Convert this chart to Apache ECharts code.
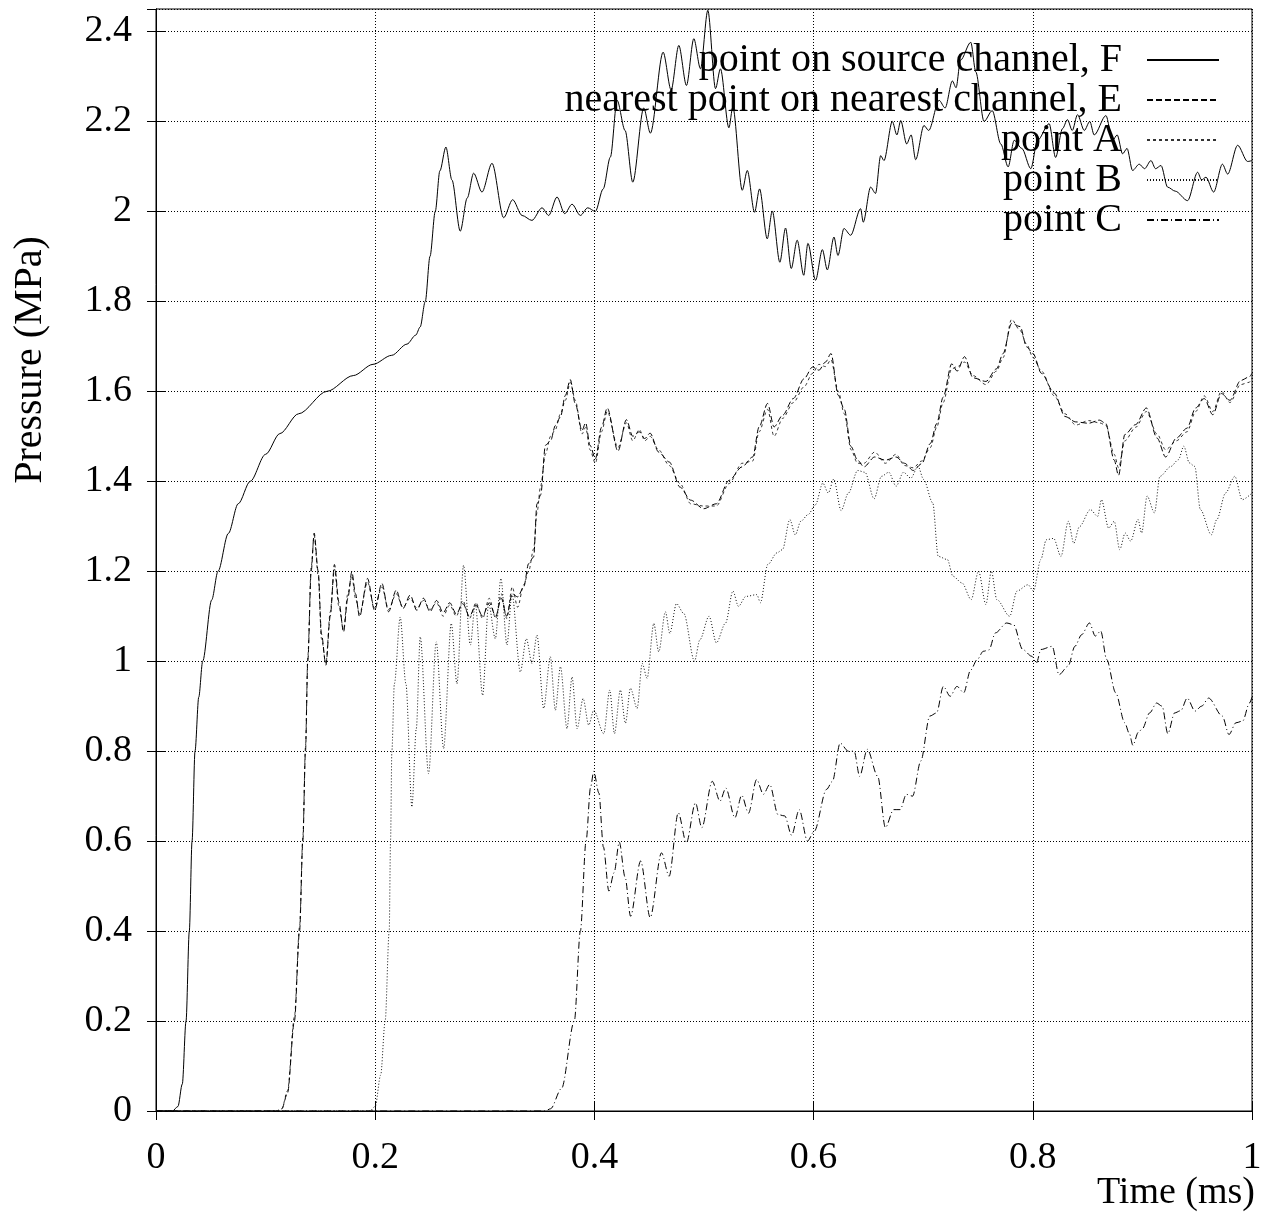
<!DOCTYPE html>
<html><head><meta charset="utf-8">
<script src="https://cdn.jsdelivr.net/npm/echarts@6/dist/echarts.min.js"></script>
<style>html,body{margin:0;padding:0;background:#fff}#c{width:1287px;height:1217px}</style>
</head><body><div id="c"></div>
<script>
const xTicks = [0, 0.2, 0.4, 0.6, 0.8, 1];
const yTicks = [0, 0.2, 0.4, 0.6, 0.8, 1, 1.2, 1.4, 1.6, 1.8, 2, 2.2, 2.4];
const seriesNames = ['point on source channel, F', 'nearest point on nearest channel, E', 'point A', 'point B', 'point C'];

const pointF = [[0,0],[0.015,0],[0.02,0.01],[0.024,0.06],[0.0274,0.2],[0.0304,0.4],[0.0329,0.6],[0.0356,0.8],[0.039,0.92],[0.0426,1.0],[0.0508,1.136],[0.0566,1.2],[0.066,1.284],[0.075,1.35],[0.086,1.4],[0.1,1.46],[0.113,1.506],[0.13,1.55],[0.156,1.6],[0.18,1.635],[0.198,1.66],[0.215,1.68],[0.229,1.705],[0.237,1.725],[0.241,1.743],[0.2457,1.8],[0.25,1.9],[0.2548,2.0],[0.259,2.09],[0.2645,2.143],[0.27,2.07],[0.2776,1.956],[0.284,2.03],[0.2898,2.085],[0.2974,2.043],[0.3066,2.107],[0.3172,1.986],[0.3254,2.026],[0.334,1.991],[0.343,1.98],[0.3522,2.008],[0.3583,1.991],[0.3659,2.032],[0.3729,1.995],[0.3796,2.016],[0.3872,1.991],[0.3939,2.008],[0.4009,2.0],[0.408,2.05],[0.4146,2.121],[0.4207,2.247],[0.428,2.18],[0.435,2.065],[0.445,2.23],[0.4511,2.174],[0.4627,2.354],[0.47,2.27],[0.477,2.369],[0.484,2.28],[0.4907,2.384],[0.4968,2.317],[0.5035,2.447],[0.5105,2.273],[0.515,2.317],[0.5227,2.186],[0.5263,2.232],[0.5349,2.047],[0.5395,2.091],[0.5461,1.998],[0.5507,2.05],[0.5577,1.939],[0.5623,2.001],[0.5692,1.887],[0.5744,1.963],[0.5796,1.873],[0.585,1.936],[0.591,1.858],[0.5948,1.929],[0.6018,1.847],[0.608,1.915],[0.6125,1.87],[0.6186,1.943],[0.6222,1.902],[0.6277,1.962],[0.6338,1.947],[0.6429,2.006],[0.6453,1.976],[0.652,2.054],[0.6565,2.04],[0.6612,2.124],[0.6642,2.113],[0.6718,2.2],[0.676,2.17],[0.6795,2.202],[0.6849,2.15],[0.689,2.17],[0.6931,2.115],[0.7007,2.191],[0.705,2.18],[0.7145,2.247],[0.72,2.23],[0.7266,2.29],[0.73,2.275],[0.734,2.336],[0.7434,2.376],[0.748,2.31],[0.7555,2.2],[0.763,2.224],[0.7708,2.15],[0.7775,2.099],[0.783,2.158],[0.79,2.14],[0.7982,2.095],[0.8043,2.158],[0.8149,2.195],[0.8208,2.12],[0.8271,2.184],[0.8316,2.204],[0.836,2.18],[0.8408,2.215],[0.847,2.18],[0.852,2.2],[0.856,2.17],[0.8667,2.213],[0.8728,2.158],[0.877,2.17],[0.8819,2.128],[0.886,2.14],[0.891,2.091],[0.8971,2.105],[0.902,2.095],[0.9078,2.113],[0.912,2.095],[0.917,2.102],[0.923,2.054],[0.93,2.045],[0.9412,2.024],[0.9504,2.087],[0.954,2.07],[0.958,2.076],[0.965,2.043],[0.973,2.105],[0.9778,2.083],[0.9869,2.147],[0.996,2.111],[1.0,2.113]];

const pointE = [[0,0],[0.11,0],[0.1148,0.005],[0.12,0.04],[0.1263,0.2],[0.131,0.4],[0.134,0.6],[0.1364,0.8],[0.1385,1.0],[0.1416,1.2],[0.1443,1.285],[0.148,1.2],[0.151,1.06],[0.155,0.991],[0.159,1.1],[0.1628,1.215],[0.167,1.13],[0.1711,1.065],[0.175,1.14],[0.1787,1.199],[0.182,1.15],[0.1857,1.099],[0.193,1.184],[0.1994,1.113],[0.2061,1.173],[0.2122,1.11],[0.2192,1.158],[0.2253,1.117],[0.2319,1.147],[0.238,1.113],[0.244,1.14],[0.25,1.11],[0.256,1.135],[0.262,1.108],[0.268,1.13],[0.274,1.105],[0.28,1.128],[0.286,1.1],[0.292,1.125],[0.298,1.1],[0.304,1.13],[0.31,1.1],[0.315,1.14],[0.32,1.1],[0.325,1.15],[0.33,1.143],[0.3355,1.165],[0.34,1.217],[0.3446,1.232],[0.3476,1.35],[0.351,1.37],[0.3553,1.48],[0.36,1.49],[0.3644,1.524],[0.369,1.543],[0.3735,1.591],[0.378,1.626],[0.3826,1.572],[0.3887,1.513],[0.392,1.53],[0.396,1.48],[0.4009,1.45],[0.4065,1.52],[0.4117,1.563],[0.4215,1.467],[0.4292,1.537],[0.435,1.5],[0.441,1.51],[0.446,1.495],[0.4508,1.507],[0.4586,1.465],[0.4683,1.443],[0.4781,1.387],[0.4879,1.358],[0.4996,1.339],[0.5112,1.35],[0.5229,1.402],[0.5347,1.432],[0.5444,1.454],[0.5503,1.521],[0.558,1.573],[0.5639,1.521],[0.5718,1.547],[0.5815,1.584],[0.5913,1.628],[0.599,1.654],[0.6049,1.647],[0.6108,1.665],[0.6159,1.684],[0.6225,1.591],[0.628,1.56],[0.6342,1.477],[0.6401,1.447],[0.6459,1.432],[0.6557,1.454],[0.6655,1.447],[0.6752,1.454],[0.683,1.44],[0.6909,1.424],[0.6986,1.439],[0.7065,1.484],[0.7123,1.528],[0.7182,1.587],[0.726,1.661],[0.731,1.645],[0.7377,1.677],[0.7455,1.63],[0.7572,1.622],[0.7669,1.65],[0.7729,1.684],[0.7806,1.751],[0.7885,1.744],[0.7943,1.699],[0.8002,1.684],[0.8079,1.64],[0.8196,1.596],[0.8294,1.544],[0.8392,1.532],[0.8509,1.529],[0.8607,1.536],[0.8665,1.529],[0.8743,1.447],[0.8782,1.413],[0.884,1.504],[0.8938,1.526],[0.9036,1.563],[0.9134,1.496],[0.9212,1.454],[0.931,1.496],[0.9407,1.518],[0.9486,1.563],[0.9564,1.584],[0.9642,1.548],[0.9721,1.595],[0.9799,1.58],[0.9896,1.624],[0.9974,1.632],[1.0,1.64]];

const pointA = [[0,0],[0.11,0],[0.1148,0.005],[0.12,0.045],[0.1263,0.21],[0.131,0.41],[0.134,0.61],[0.1364,0.81],[0.1385,1.01],[0.1416,1.21],[0.1443,1.28],[0.148,1.19],[0.151,1.05],[0.155,0.995],[0.159,1.11],[0.1628,1.205],[0.167,1.12],[0.1711,1.07],[0.175,1.15],[0.1787,1.19],[0.182,1.14],[0.1857,1.105],[0.193,1.176],[0.1994,1.118],[0.2061,1.165],[0.2122,1.115],[0.2192,1.15],[0.2253,1.12],[0.2319,1.14],[0.238,1.118],[0.244,1.135],[0.25,1.115],[0.256,1.13],[0.262,1.1],[0.268,1.125],[0.274,1.1],[0.28,1.135],[0.286,1.095],[0.292,1.13],[0.298,1.095],[0.304,1.14],[0.31,1.095],[0.315,1.15],[0.32,1.095],[0.325,1.165],[0.33,1.12],[0.3355,1.17],[0.34,1.2],[0.3446,1.25],[0.3476,1.33],[0.351,1.39],[0.3553,1.46],[0.36,1.5],[0.3644,1.515],[0.369,1.55],[0.3735,1.58],[0.378,1.62],[0.3826,1.58],[0.3887,1.505],[0.392,1.52],[0.396,1.47],[0.4009,1.44],[0.4065,1.51],[0.4117,1.555],[0.4215,1.475],[0.4292,1.53],[0.435,1.49],[0.441,1.515],[0.446,1.49],[0.4508,1.5],[0.4586,1.47],[0.4683,1.435],[0.4781,1.395],[0.4879,1.35],[0.4996,1.345],[0.5112,1.345],[0.5229,1.395],[0.5347,1.44],[0.5444,1.445],[0.5503,1.51],[0.558,1.56],[0.5639,1.5],[0.5718,1.54],[0.5815,1.575],[0.5913,1.61],[0.599,1.64],[0.6049,1.66],[0.6108,1.655],[0.6159,1.67],[0.6225,1.6],[0.628,1.55],[0.6342,1.47],[0.6401,1.44],[0.6459,1.44],[0.6557,1.465],[0.6655,1.44],[0.6752,1.46],[0.683,1.435],[0.6909,1.43],[0.6986,1.445],[0.7065,1.475],[0.7123,1.52],[0.7182,1.575],[0.726,1.65],[0.731,1.655],[0.7377,1.665],[0.7455,1.635],[0.7572,1.615],[0.7669,1.645],[0.7729,1.675],[0.7806,1.76],[0.7885,1.735],[0.7943,1.705],[0.8002,1.675],[0.8079,1.645],[0.8196,1.59],[0.8294,1.55],[0.8392,1.525],[0.8509,1.535],[0.8607,1.53],[0.8665,1.525],[0.8743,1.46],[0.8782,1.43],[0.884,1.49],[0.8938,1.52],[0.9036,1.555],[0.9134,1.505],[0.9212,1.47],[0.931,1.49],[0.9407,1.51],[0.9486,1.555],[0.9564,1.59],[0.9642,1.555],[0.9721,1.6],[0.9799,1.575],[0.9896,1.615],[0.9974,1.62],[1.0,1.63]];

const pointB = [[0,0],[0.195,0],[0.2,0.01],[0.205,0.08],[0.2091,0.2],[0.2128,0.4],[0.214,0.6],[0.2152,0.8],[0.2175,0.95],[0.2228,1.098],[0.228,0.95],[0.2335,0.676],[0.2375,0.85],[0.2411,1.054],[0.2487,0.75],[0.2557,1.043],[0.2624,0.806],[0.2694,1.084],[0.2746,0.95],[0.2806,1.213],[0.2868,1.036],[0.2913,1.128],[0.298,0.924],[0.3035,1.128],[0.3096,1.05],[0.3147,1.184],[0.3202,1.036],[0.3248,1.15],[0.3324,0.976],[0.3379,1.05],[0.3431,0.995],[0.3476,1.058],[0.3537,0.895],[0.3598,1.01],[0.3644,0.891],[0.369,0.988],[0.375,0.85],[0.3796,0.965],[0.3842,0.85],[0.3897,0.917],[0.3948,0.858],[0.3994,0.891],[0.4085,0.839],[0.414,0.936],[0.4183,0.839],[0.4237,0.936],[0.4283,0.862],[0.4329,0.94],[0.439,0.895],[0.4436,0.995],[0.4481,0.962],[0.4542,1.084],[0.4587,1.021],[0.4648,1.11],[0.4688,1.062],[0.4749,1.128],[0.4816,1.106],[0.4913,1.0],[0.4963,1.048],[0.5046,1.1],[0.5113,1.041],[0.5197,1.085],[0.5264,1.156],[0.5314,1.122],[0.5382,1.144],[0.5482,1.148],[0.5515,1.13],[0.5582,1.215],[0.5666,1.241],[0.5716,1.248],[0.5783,1.315],[0.5833,1.281],[0.5883,1.311],[0.595,1.326],[0.6017,1.348],[0.6084,1.396],[0.6134,1.374],[0.6184,1.405],[0.6251,1.335],[0.6318,1.374],[0.6402,1.424],[0.6469,1.42],[0.6552,1.361],[0.6619,1.411],[0.6686,1.42],[0.6753,1.389],[0.682,1.42],[0.6887,1.407],[0.6953,1.433],[0.7004,1.404],[0.7087,1.352],[0.7137,1.233],[0.7221,1.226],[0.7271,1.189],[0.7354,1.174],[0.7438,1.137],[0.7505,1.2],[0.7572,1.126],[0.7622,1.2],[0.7672,1.137],[0.7789,1.1],[0.7856,1.156],[0.7956,1.17],[0.8006,1.156],[0.8073,1.226],[0.8123,1.27],[0.819,1.273],[0.8257,1.233],[0.8324,1.311],[0.8374,1.262],[0.8425,1.299],[0.8525,1.337],[0.8592,1.322],[0.8626,1.359],[0.8692,1.296],[0.8743,1.311],[0.8793,1.248],[0.8843,1.285],[0.8893,1.267],[0.896,1.315],[0.8993,1.285],[0.9043,1.367],[0.911,1.33],[0.916,1.411],[0.926,1.433],[0.9328,1.448],[0.9378,1.478],[0.9428,1.441],[0.9478,1.433],[0.9529,1.337],[0.9629,1.281],[0.9679,1.315],[0.9759,1.374],[0.9843,1.411],[0.991,1.359],[1.0,1.374]];

const pointC = [[0,0],[0.355,0],[0.36,0.005],[0.37,0.05],[0.3817,0.2],[0.3872,0.4],[0.3924,0.6],[0.3965,0.72],[0.3994,0.755],[0.4041,0.707],[0.4082,0.587],[0.4132,0.489],[0.418,0.53],[0.4227,0.598],[0.428,0.52],[0.433,0.433],[0.4422,0.556],[0.4509,0.43],[0.4612,0.574],[0.4682,0.522],[0.4765,0.663],[0.4839,0.596],[0.4922,0.685],[0.498,0.63],[0.5075,0.733],[0.5146,0.689],[0.5199,0.718],[0.5282,0.652],[0.5344,0.702],[0.5406,0.662],[0.548,0.737],[0.5542,0.704],[0.56,0.726],[0.5675,0.659],[0.5737,0.656],[0.5799,0.613],[0.5869,0.67],[0.5944,0.6],[0.6006,0.622],[0.6118,0.715],[0.6172,0.733],[0.6242,0.818],[0.6316,0.8],[0.637,0.8],[0.642,0.744],[0.649,0.804],[0.6585,0.744],[0.6655,0.63],[0.673,0.67],[0.679,0.67],[0.6846,0.704],[0.6903,0.7],[0.6978,0.778],[0.706,0.878],[0.7122,0.885],[0.7184,0.944],[0.7246,0.922],[0.7308,0.944],[0.737,0.93],[0.7432,0.98],[0.7494,1.004],[0.7548,1.022],[0.76,1.025],[0.7659,1.063],[0.7762,1.085],[0.7825,1.081],[0.7908,1.026],[0.799,1.011],[0.8033,0.996],[0.8074,1.026],[0.8177,1.033],[0.8239,0.97],[0.8322,0.989],[0.8384,1.033],[0.8446,1.059],[0.8517,1.085],[0.857,1.056],[0.862,1.067],[0.8674,1.004],[0.8756,0.93],[0.8839,0.863],[0.8881,0.839],[0.8913,0.813],[0.8963,0.842],[0.9,0.85],[0.9066,0.885],[0.9129,0.907],[0.918,0.9],[0.9232,0.839],[0.9294,0.885],[0.935,0.89],[0.9409,0.918],[0.948,0.889],[0.954,0.9],[0.9604,0.918],[0.9729,0.878],[0.979,0.837],[0.9853,0.863],[0.9915,0.867],[0.9977,0.907],[1.0,0.92]];

const FONT = '"Liberation Serif", "Times New Roman", serif';
const FS_TICK = 38;
const FS_LEG = 40;
const chart = echarts.init(document.getElementById('c'), null, {renderer: 'canvas'});

const styles = [
  {color: '#000', type: 'solid'},
  {color: '#000', type: [6, 3]},
  {color: '#333', type: [3, 3]},
  {color: '#111', type: [1, 2]},
  {color: '#000', type: [7, 3, 1, 3]}
];
const datasets = [pointF, pointE, pointA, pointB, pointC];

const gridLine = {show: true, lineStyle: {color: '#000', width: 1, type: [1, 2]}};
const axisBase = {
  type: 'value', min: 0, axisLine: {show: true, lineStyle: {color: '#000', width: 1}},
  axisTick: {show: true, inside: true, length: 9, lineStyle: {color: '#000', width: 1}},
};

chart.setOption({
  animation: false,
  backgroundColor: '#fff',
  grid: {left: 156, right: 35, top: 9, bottom: 106, show: true, borderColor: '#000', borderWidth: 1,
    containLabel: false, outerBoundsMode: 'none'},
  xAxis: [
    Object.assign({}, axisBase, {max: 1, interval: 0.2, position: 'bottom',
      splitLine: gridLine,
      axisLabel: {show: true, margin: 28, color: '#000', fontFamily: FONT, fontSize: FS_TICK,
        formatter: v => xTicks.includes(+v.toFixed(4)) ? String(+v.toFixed(4)) : ''}
    }),
    Object.assign({}, axisBase, {max: 1, interval: 0.2, position: 'top', splitLine: {show: false}, axisLabel: {show: false}})
  ],
  yAxis: [
    Object.assign({}, axisBase, {max: 2.45, interval: 0.2, position: 'left',
      splitLine: gridLine,
      axisLabel: {show: true, margin: 24, color: '#000', fontFamily: FONT, fontSize: FS_TICK, showMaxLabel: false,
        formatter: v => yTicks.includes(+v.toFixed(4)) ? String(+v.toFixed(4)) : ''}
    }),
    Object.assign({}, axisBase, {max: 2.45, interval: 0.2, position: 'right', splitLine: {show: false}, axisLabel: {show: false}})
  ],
  legend: {
    orient: 'vertical', align: 'right', right: 67, top: 40, padding: 0,
    itemWidth: 72, itemHeight: 40, itemGap: 0,
    itemStyle: {opacity: 0},
    textStyle: {color: '#000', fontFamily: FONT, fontSize: FS_LEG},
    formatter: name => name + '  ',
    data: seriesNames
  },
  graphic: [{
    type: 'text', x: 30, y: 360, rotation: Math.PI / 2,
    style: {text: 'Pressure (MPa)', fill: '#000', font: FS_LEG + 'px ' + FONT, align: 'center', verticalAlign: 'middle'}
  }, {
    type: 'text', x: 1255, y: 1193,
    style: {text: 'Time (ms)', fill: '#000', font: FS_TICK + 'px ' + FONT, align: 'right', verticalAlign: 'middle'}
  }],
  series: seriesNames.map((name, i) => ({
    name: name, type: 'line', data: datasets[i], showSymbol: false, symbol: 'none',
    smooth: 0.3, smoothMonotone: 'x', clip: true,
    lineStyle: {color: styles[i].color, width: 1, type: styles[i].type},
    itemStyle: {color: styles[i].color},
    z: 5 - i
  }))
});
</script></body></html>
